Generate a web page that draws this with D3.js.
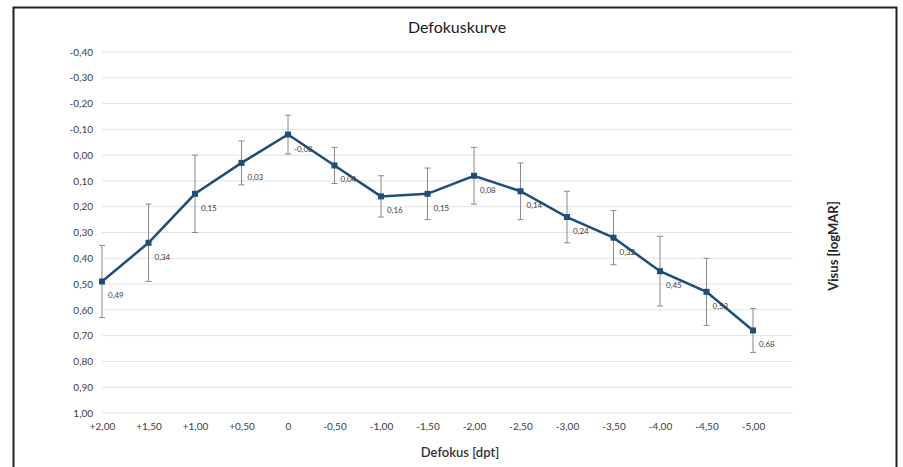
<!DOCTYPE html>
<html>
<head>
<meta charset="utf-8">
<script src="https://cdn.jsdelivr.net/npm/d3@7"></script>
<style>
  body { margin: 0; background: #fff; }
  svg text { font-family: Lato, "Open Sans", sans-serif; }
</style>
</head>
<body>
<div id="chart"></div>
<script>
const canvWidth = 903, canvHeight = 467;

// defocus categories (dpt) and mean visus (logMAR) with error bar half-width
const defocus = ["+2,00", "+1,50", "+1,00", "+0,50", "0", "-0,50", "-1,00", "-1,50",
                 "-2,00", "-2,50", "-3,00", "-3,50", "-4,00", "-4,50", "-5,00"];
const visus = [0.49, 0.34, 0.15, 0.03, -0.08, 0.04, 0.16, 0.15, 0.08, 0.14, 0.24, 0.32, 0.45, 0.53, 0.68];
const visusErr = [0.14, 0.15, 0.15, 0.085, 0.075, 0.07, 0.08, 0.1, 0.11, 0.11, 0.1, 0.105, 0.135, 0.13, 0.085];
const yTicks = [-0.4, -0.3, -0.2, -0.1, 0, 0.1, 0.2, 0.3, 0.4, 0.5, 0.6, 0.7, 0.8, 0.9, 1.0];

const margin = {top: 52, left: 102, right: 110, bottom: 55};
const width = canvWidth - margin.left - margin.right;
const height = canvHeight - margin.top - margin.bottom;

const svg = d3.select('#chart')
    .append('svg')
    .attr('width', canvWidth)
    .attr('height', canvHeight);

// frame of the figure
svg.append('rect')
    .attr('x', 13.5)
    .attr('y', 7.5)
    .attr('width', 883)
    .attr('height', 480)
    .attr('fill', 'none')
    .attr('stroke', '#222')
    .attr('stroke-width', 2);

const g = svg.append('g')
    .attr('transform', `translate(${margin.left},${margin.top})`);

// german decimal comma, plain hyphen as minus
const fmt = v => d3.format(".2f")(v).replace('.', ',').replace('\u2212', '-');

const xScale = d3.scalePoint()
    .domain(defocus)
    .range([0, 651]);

const yScale = d3.scaleLinear()
    .domain([-0.4, 1.0])
    .range([0, 361]);

// grid lines
g.append('g')
    .selectAll('line')
    .data(yTicks)
    .enter()
    .append('line')
    .attr('x1', 0)
    .attr('x2', 691)
    .attr('y1', d => yScale(d))
    .attr('y2', d => yScale(d))
    .attr('stroke', '#e3e3e3')
    .attr('stroke-width', 1);

// y axis
const yAxis = g.append('g')
    .call(d3.axisLeft(yScale).tickValues(yTicks).tickFormat(fmt).tickSize(0).tickPadding(9));
yAxis.select('.domain').remove();
yAxis.selectAll('text')
    .style('font-size', '10px')
    .style('fill', '#404040');

// x axis
const xAxis = g.append('g')
    .attr('transform', `translate(0,${height})`)
    .call(d3.axisBottom(xScale).tickSize(0).tickPadding(11));
xAxis.select('.domain').remove();
xAxis.selectAll('text')
    .style('font-size', '10px')
    .style('fill', '#404040');

// error bars
const err = g.append('g').selectAll('g')
    .data(defocus)
    .enter()
    .append('g')
    .attr('stroke', '#8a8a8a')
    .attr('stroke-width', 1);
err.append('line')
    .attr('x1', d => xScale(d))
    .attr('x2', d => xScale(d))
    .attr('y1', (d, i) => yScale(visus[i] - visusErr[i]))
    .attr('y2', (d, i) => yScale(visus[i] + visusErr[i]));
err.append('line')
    .attr('x1', d => xScale(d) - 3)
    .attr('x2', d => xScale(d) + 3)
    .attr('y1', (d, i) => yScale(visus[i] - visusErr[i]))
    .attr('y2', (d, i) => yScale(visus[i] - visusErr[i]));
err.append('line')
    .attr('x1', d => xScale(d) - 3)
    .attr('x2', d => xScale(d) + 3)
    .attr('y1', (d, i) => yScale(visus[i] + visusErr[i]))
    .attr('y2', (d, i) => yScale(visus[i] + visusErr[i]));

// line
const line = d3.line()
    .x((d, i) => xScale(defocus[i]))
    .y(d => yScale(d));
g.append('path')
    .datum(visus)
    .attr('d', line)
    .attr('fill', 'none')
    .attr('stroke', '#1f4e79')
    .attr('stroke-width', 2.5);

// markers
g.append('g')
    .selectAll('rect')
    .data(visus)
    .enter()
    .append('rect')
    .attr('x', (d, i) => xScale(defocus[i]) - 3)
    .attr('y', d => yScale(d) - 3)
    .attr('width', 6)
    .attr('height', 6)
    .attr('fill', '#1f4e79');

// data labels
g.append('g')
    .selectAll('text')
    .data(visus)
    .enter()
    .append('text')
    .attr('x', (d, i) => xScale(defocus[i]) + 6)
    .attr('y', d => yScale(d) + 17)
    .style('font-size', '8px')
    .style('fill', '#404040')
    .text(d => fmt(d));

// title
svg.append('text')
    .attr('x', 457)
    .attr('y', 33)
    .style('text-anchor', 'middle')
    .style('font-size', '16px')
    .style('fill', '#1a1a1a')
    .text('Defokuskurve');

// axis titles
svg.append('text')
    .attr('x', 460)
    .attr('y', 457)
    .style('text-anchor', 'middle')
    .style('font-size', '13px')
    .style('font-weight', '600')
    .style('fill', '#333')
    .text('Defokus [dpt]');

svg.append('text')
    .attr('transform', 'translate(838,246) rotate(-90)')
    .style('text-anchor', 'middle')
    .style('font-size', '13px')
    .style('font-weight', '700')
    .style('fill', '#262626')
    .text('Visus [logMAR]');
</script>
</body>
</html>
